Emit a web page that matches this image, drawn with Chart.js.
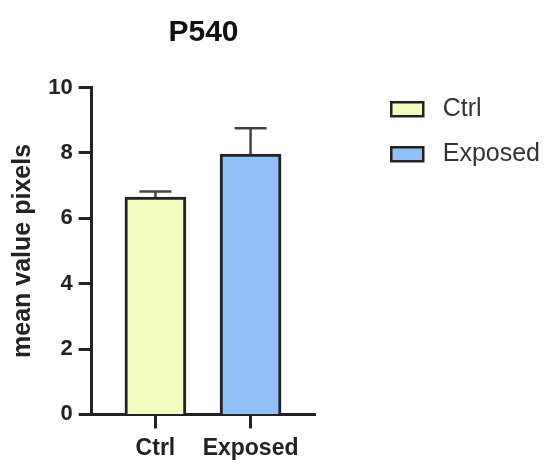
<!DOCTYPE html>
<html>
<head>
<meta charset="utf-8">
<script src="https://cdn.jsdelivr.net/npm/chart.js@4"></script>
<style>
  html, body { margin: 0; padding: 0; background: #ffffff; }
  #wrap { width: 550px; height: 469px; position: relative; }
</style>
</head>
<body>
<div id="wrap"><canvas id="c"></canvas></div>
<script>
// ---- data ----
const categories = ['Ctrl', 'Exposed'];
const means = [6.65, 7.96];
const errors = [0.17, 0.79];
const fillColors = ['#f4fbbe', '#90c0f6'];
const yTickMin = 0;
const yTickMax = 10;
const yTickStep = 2;
const chartTitle = 'P540';
const yAxisTitle = 'mean value pixels';

const FONT = "'Liberation Sans', Arial, Helvetica, sans-serif";
const INK = '#222222';

const datasets = categories.map((c, i) => ({
  label: c,
  data: [{ x: i + 1, y: means[i] }],
  backgroundColor: fillColors[i],
  borderColor: INK,
  borderWidth: 3,
  grouped: false,
  barThickness: 61,
  maxBarThickness: 61
}));

const errorBars = {
  id: 'errorBars',
  afterDatasetsDraw(chart) {
    const ctx = chart.ctx;
    const yScale = chart.scales.y;
    ctx.save();
    ctx.strokeStyle = '#444444';
    ctx.lineWidth = 2.5;
    chart.data.datasets.forEach((ds, i) => {
      const meta = chart.getDatasetMeta(i);
      const el = meta.data[0];
      if (!el) return;
      const x = el.x;
      const yBar = el.y;
      const yTop = yScale.getPixelForValue(means[i] + errors[i]);
      ctx.beginPath();
      ctx.moveTo(x, yBar);
      ctx.lineTo(x, yTop);
      ctx.moveTo(x - 16, yTop);
      ctx.lineTo(x + 16, yTop);
      ctx.stroke();
    });
    ctx.restore();
  }
};

new Chart(document.getElementById('c'), {
  type: 'bar',
  data: { datasets },
  options: {
    responsive: true,
    maintainAspectRatio: false,
    animation: false,
    layout: { padding: { left: 0, right: 0, top: 0, bottom: 1 } },
    plugins: {
      tooltip: { enabled: false },
      title: {
        display: true,
        text: chartTitle,
        fullSize: false,
        color: '#111111',
        font: { family: FONT, size: 30, weight: 'bold' },
        padding: { top: 14.5, bottom: 37 }
      },
      legend: {
        display: true,
        position: 'right',
        align: 'start',
        maxWidth: 180.75,
        title: {
          display: true,
          text: '',
          font: { size: 10 },
          padding: { top: 64.75, bottom: 0 }
        },
        labels: {
          boxWidth: 32,
          boxHeight: 14,
          padding: 20,
          color: '#333333',
          font: { family: FONT, size: 25, weight: 'normal' },
          generateLabels(chart) {
            return chart.data.datasets.map((ds, i) => ({
              text: ' ' + ds.label,
              fillStyle: ds.backgroundColor,
              strokeStyle: INK,
              lineWidth: 2.5,
              fontColor: '#333333',
              hidden: false,
              datasetIndex: i
            }));
          }
        }
      }
    },
    scales: {
      x: {
        type: 'linear',
        min: 0.33,
        max: 2.68,
        offset: false,
        afterBuildTicks(scale) {
          scale.ticks = categories.map((c, i) => ({ value: i + 1 }));
        },
        ticks: {
          autoSkip: false,
          maxRotation: 0,
          padding: 6,
          color: INK,
          font: { family: FONT, size: 23, weight: 'bold' },
          callback(v) { return categories[Math.round(v) - 1]; }
        },
        grid: {
          display: true,
          offset: false,
          drawOnChartArea: false,
          drawTicks: true,
          tickLength: 14,
          tickWidth: 3,
          tickColor: INK
        },
        border: { display: true, color: INK, width: 3 }
      },
      y: {
        type: 'linear',
        position: 'left',
        min: yTickMin,
        max: yTickMax,
        ticks: {
          stepSize: yTickStep,
          padding: 6,
          color: INK,
          font: { family: FONT, size: 22, weight: 'bold' }
        },
        grid: {
          display: true,
          drawOnChartArea: false,
          drawTicks: true,
          tickLength: 13,
          tickWidth: 3,
          tickColor: INK
        },
        border: { display: true, color: INK, width: 3 },
        title: {
          display: true,
          text: yAxisTitle,
          color: INK,
          font: { family: FONT, size: 25, weight: 'bold' },
          padding: { top: 8, bottom: 10.5 }
        }
      },
      spacer: {
        type: 'linear',
        position: 'right',
        display: true,
        ticks: { display: false },
        grid: { display: false, drawTicks: false },
        border: { display: false },
        afterFit(scale) { scale.width = 56; }
      }
    }
  },
  plugins: [errorBars]
});
</script>
</body>
</html>
